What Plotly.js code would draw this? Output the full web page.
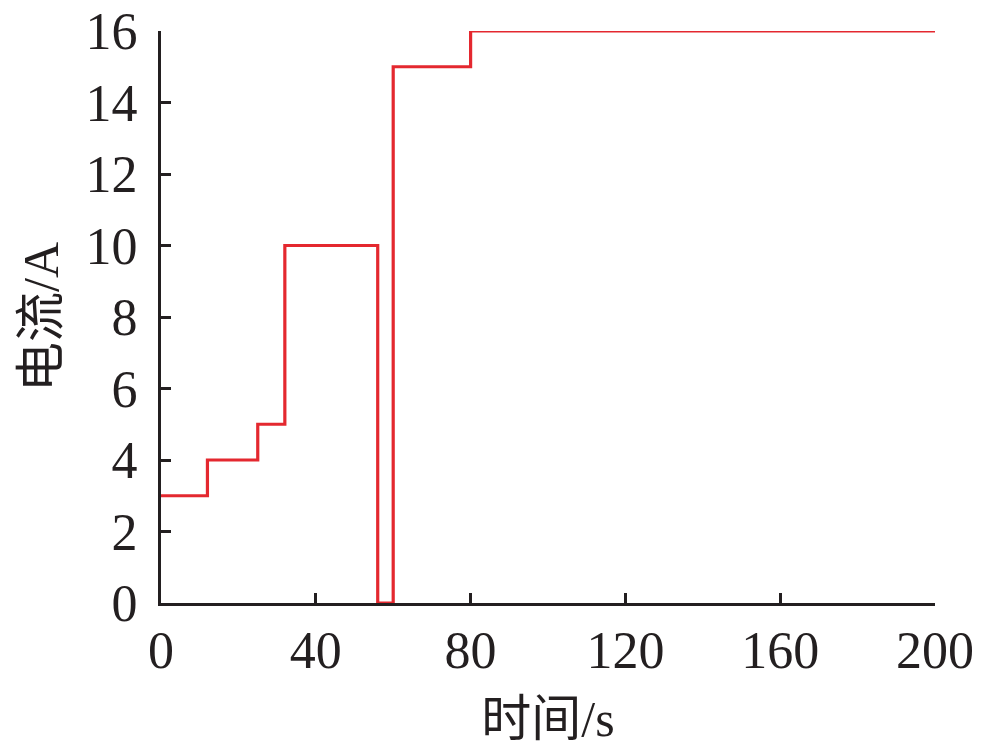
<!DOCTYPE html>
<html>
<head>
<meta charset="utf-8">
<script src="https://cdn.plot.ly/plotly-3.0.1.min.js"></script>
<style>html,body{margin:0;padding:0;background:#fff;}#chart{width:984px;height:750px;}</style>
</head>
<body>
<div id="chart"></div>
<script>
// step points (value holds until next x)
const timeS = [0, 12, 25, 32, 56, 60, 80, 200];
const currentA = [3, 4, 5, 10, 0, 15, 16, 16];
const xTicks = [0, 40, 80, 120, 160, 200];
const yTicks = [0, 2, 4, 6, 8, 10, 12, 14, 16];
const xTitleCn = '时间';
const xTitleUnit = '/s';
const yTitleCn = '电流';
const yTitleUnit = '/A';

const serif = 'Liberation Serif';
const fontFam = 'Liberation Serif, Noto Sans CJK SC, serif';
const axisColor = '#231f20';
const mkTitle = (cn, unit) =>
  '<span style="font-family:Noto Sans CJK SC">' + cn + '</span>' +
  '<span style="font-family:Liberation Serif">' + unit + '</span>';

const trace = {
  x: timeS, y: currentA, type: 'scatter', mode: 'lines',
  line: {shape: 'hv', color: '#e4282f', width: 3.2},
  cliponaxis: false, hoverinfo: 'skip'
};

const layout = {
  width: 984, height: 750,
  margin: {l: 161, r: 49, t: 31, b: 147},
  paper_bgcolor: '#fff', plot_bgcolor: '#fff',
  showlegend: false,
  font: {family: fontFam, color: axisColor, size: 50},
  xaxis: {
    range: [0, 200], tickvals: xTicks, ticktext: xTicks.map(String),
    ticks: 'inside', ticklen: 10, tickwidth: 3, tickcolor: axisColor,
    showline: true, linewidth: 3, linecolor: axisColor, mirror: false,
    showgrid: false, zeroline: false,
    tickfont: {family: serif, size: 52, color: axisColor},
    ticklabelstandoff: 0,
    title: {text: mkTitle(xTitleCn, xTitleUnit), font: {family: fontFam, size: 50, color: axisColor}, standoff: 8}
  },
  yaxis: {
    range: [0, 16], tickvals: yTicks, ticktext: yTicks.map(String),
    ticks: 'inside', ticklen: 10, tickwidth: 3, tickcolor: axisColor,
    showline: true, linewidth: 3, linecolor: axisColor, mirror: false,
    showgrid: false, zeroline: false,
    tickfont: {family: serif, size: 52, color: axisColor},
    ticklabelstandoff: 10,
    title: {text: mkTitle(yTitleCn, yTitleUnit), font: {family: fontFam, size: 50, color: axisColor}, standoff: 12}
  }
};

Plotly.newPlot('chart', [trace], layout, {displayModeBar: false, staticPlot: true});
</script>
</body>
</html>
